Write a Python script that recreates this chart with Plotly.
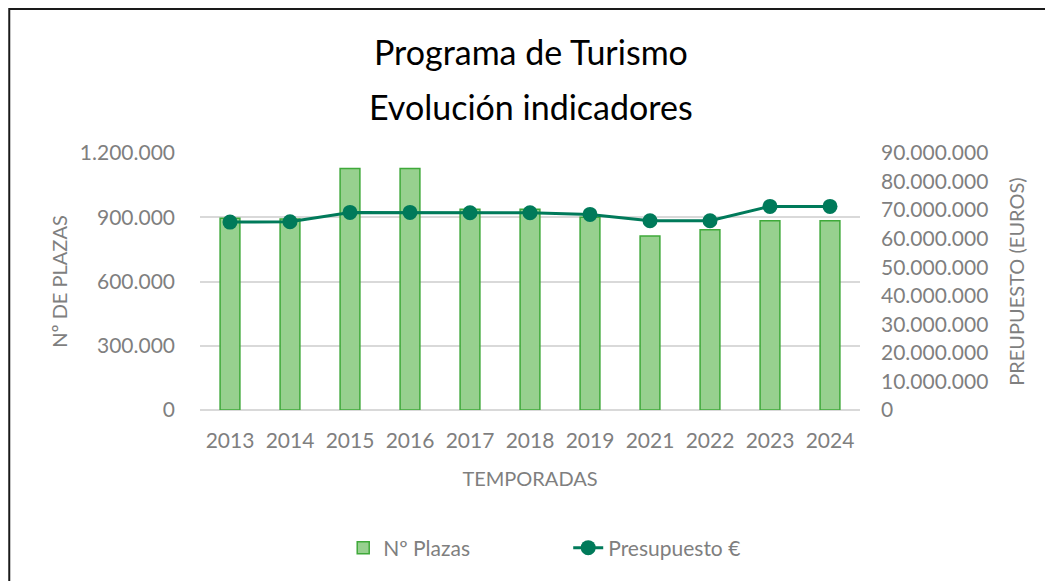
import plotly.graph_objects as go

temporadas = ["2013", "2014", "2015", "2016", "2017", "2018", "2019", "2021", "2022", "2023", "2024"]
plazas = [895000, 892000, 1128000, 1128000, 937000, 937000, 900000, 812000, 842000, 884000, 884000]
presupuesto = [65800000, 65900000, 69200000, 69200000, 69100000, 69100000, 68500000, 66300000, 66300000, 71300000, 71300000]

left_ticks = [0, 300000, 600000, 900000, 1200000]
right_ticks = list(range(0, 90000001, 10000000))


def fmt(v):
    return f"{v:,}".replace(",", ".")


GREY = "#7f7f7f"
FONT = "Lato"

fig = go.Figure()

fig.add_trace(go.Bar(
    x=temporadas, y=plazas, name="Nº Plazas",
    width=0.33,
    marker=dict(color="#97d08f", line=dict(color="#3fa93a", width=1.5)),
))

fig.add_trace(go.Scatter(
    x=temporadas, y=presupuesto, name="Presupuesto €",
    yaxis="y2", mode="lines+markers",
    line=dict(color="#007a5a", width=3),
    marker=dict(color="#007a5a", size=15),
))

# the page body adds an 8px offset, margins are set with that in mind
fig.update_layout(
    width=1053, height=581,
    paper_bgcolor="white", plot_bgcolor="white",
    margin=dict(l=192, r=201, t=145, b=179, autoexpand=False),
    font=dict(family=FONT, color=GREY, size=21),
    xaxis=dict(
        type="category", range=[-0.5, 10.5],
        showgrid=False, zeroline=False,
        showline=False, ticks="", ticklabelstandoff=16,
        tickfont=dict(size=21, color=GREY),
        title=dict(text="TEMPORADAS", font=dict(size=20, color=GREY), standoff=20),
    ),
    yaxis=dict(
        range=[0, 1200000], tickvals=left_ticks,
        ticktext=[fmt(v) for v in left_ticks],
        showgrid=True, gridcolor="#d9d9d9", gridwidth=1.5,
        zeroline=True, zerolinecolor="#d9d9d9", zerolinewidth=1.5,
        ticks="", ticklabelstandoff=24,
        tickfont=dict(size=21, color=GREY),
        title=dict(text="Nº DE PLAZAS", font=dict(size=20, color=GREY), standoff=6),
    ),
    yaxis2=dict(
        overlaying="y", side="right",
        range=[0, 90000000], tickvals=right_ticks,
        ticktext=[fmt(v) for v in right_ticks],
        showgrid=False, zeroline=False, ticks="",
        ticklabelstandoff=20,
        tickfont=dict(size=21, color=GREY),
        title=dict(text="PREUPUESTO (EUROS)", font=dict(size=20, color=GREY), standoff=22),
    ),
    legend=dict(
        orientation="h", x=0.217, xanchor="left", y=-0.537, yanchor="middle",
        font=dict(size=21, color=GREY), entrywidth=180,
    ),
    annotations=[
        dict(text="Programa de Turismo", xref="paper", yref="paper",
             x=0.501, y=1.393, xanchor="center", yanchor="middle", showarrow=False,
             font=dict(family=FONT, size=34, color="#000000")),
        dict(text="Evolución indicadores", xref="paper", yref="paper",
             x=0.501, y=1.179, xanchor="center", yanchor="middle", showarrow=False,
             font=dict(family=FONT, size=34, color="#000000")),
    ],
    shapes=[dict(
        type="rect", xref="paper", yref="paper",
        x0=-0.289, x1=1.5, y0=-1.2, y1=1.56,
        line=dict(color="#1a1a1a", width=2), fillcolor="rgba(0,0,0,0)",
        layer="below",
    )],
)

fig.write_html("out.html")
